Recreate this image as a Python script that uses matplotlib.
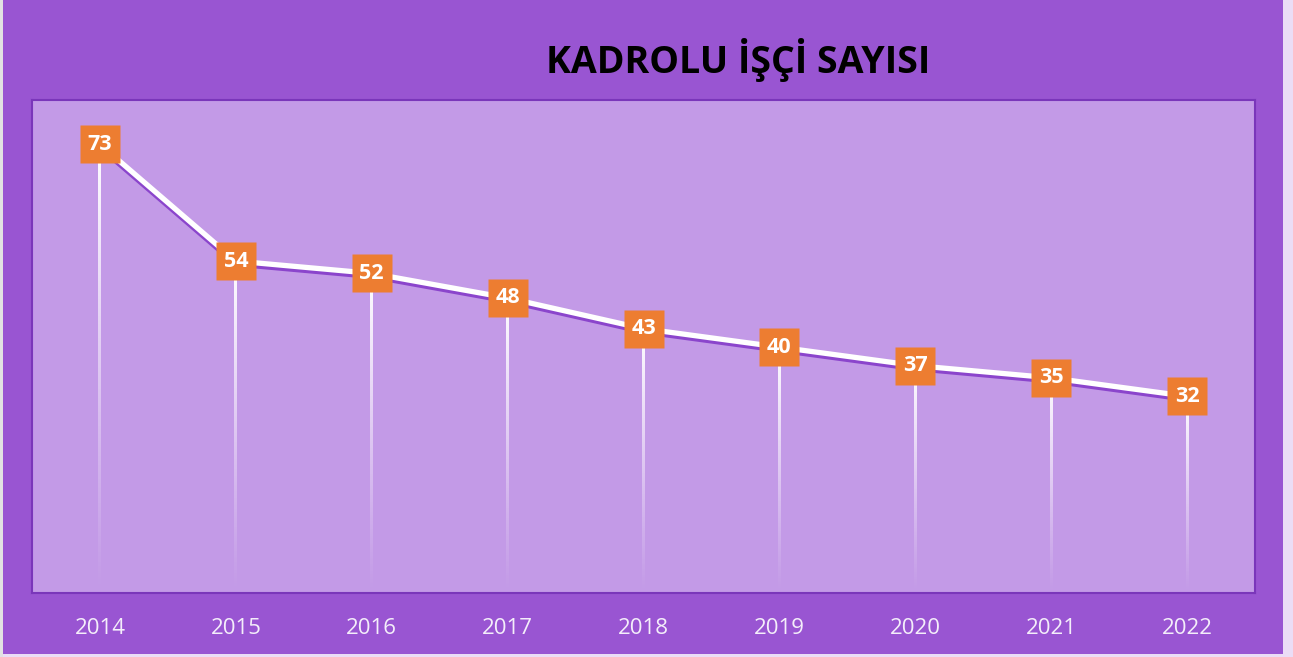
import matplotlib.pyplot as plt
import matplotlib.patheffects as pe
from matplotlib.patches import Rectangle
import numpy as np

# Chart data
years = ["2014", "2015", "2016", "2017", "2018", "2019", "2020", "2021", "2022"]
workers = [73, 54, 52, 48, 43, 40, 37, 35, 32]
title = "KADROLU İŞÇİ SAYISI"

frame_color = "#9955D2"
plot_color = "#C39AE7"
border_color = "#7A36BA"
orange = "#ED7D31"

plt.rcParams['font.family'] = ['Open Sans', 'DejaVu Sans']

fig = plt.figure(figsize=(12.93, 6.57), dpi=100)
fig.patch.set_facecolor("#EBDDF6")
# purple outer frame
fig.patches.append(Rectangle((3 / 1293, 3 / 657), 1280 / 1293, 654 / 657,
                             transform=fig.transFigure, facecolor=frame_color,
                             edgecolor="none", zorder=-2))
fig.patches.append(Rectangle((0, 0), 3 / 1293, 1, transform=fig.transFigure,
                             facecolor="#E2E2E2", edgecolor="none", zorder=-2))

ax = fig.add_axes([32 / 1293, 64 / 657, 1223 / 1293, 493 / 657])
ax.set_facecolor(plot_color)
for s in ax.spines.values():
    s.set_color(border_color)
    s.set_linewidth(1.5)

x = np.arange(len(years))

# drop lines fading out towards the bottom (vertical alpha gradient)
grad = np.zeros((200, 1, 4))
grad[..., :3] = 1.0
grad[:, 0, 3] = np.linspace(1, 0, 200) ** 1.1
half_w = 1.5 / 136  # about 3 px wide
for xi, v in zip(x, workers):
    ax.imshow(grad, extent=[xi - half_w, xi + half_w, 0, v], origin="upper",
              aspect="auto", interpolation="bilinear", zorder=2)

# main line with purple shadow
ax.plot(x, workers, color="white", linewidth=3.8, zorder=3,
        solid_capstyle="butt",
        path_effects=[pe.SimpleLineShadow(offset=(0, -2.2), shadow_color="#8B45CC",
                                          alpha=1), pe.Normal()])

# orange value labels
box = [(-1, -0.93), (1, -0.93), (1, 0.93), (-1, 0.93)]
ax.plot(x, workers, linestyle="none", marker=box, markersize=29.5,
        markerfacecolor=orange, markeredgecolor="none", zorder=4)
for xi, v in zip(x, workers):
    ax.text(xi, v, str(v), ha="center", va="center", color="white",
            fontsize=15.5, fontweight="bold", zorder=5)

ax.set_xlim(-0.5, len(years) - 0.5)
ax.set_ylim(0, 80.2)
ax.set_yticks([])
ax.set_xticks(x)
ax.set_xticklabels(years, color="#F4EEFA", fontsize=16)
ax.tick_params(axis="x", length=0, pad=18)

fig.text(738 / 1293, 1 - 60 / 657, title, ha="center", va="center",
         fontsize=27, fontweight="bold", color="black")

fig.savefig("out.png", dpi=100, facecolor=fig.get_facecolor())
